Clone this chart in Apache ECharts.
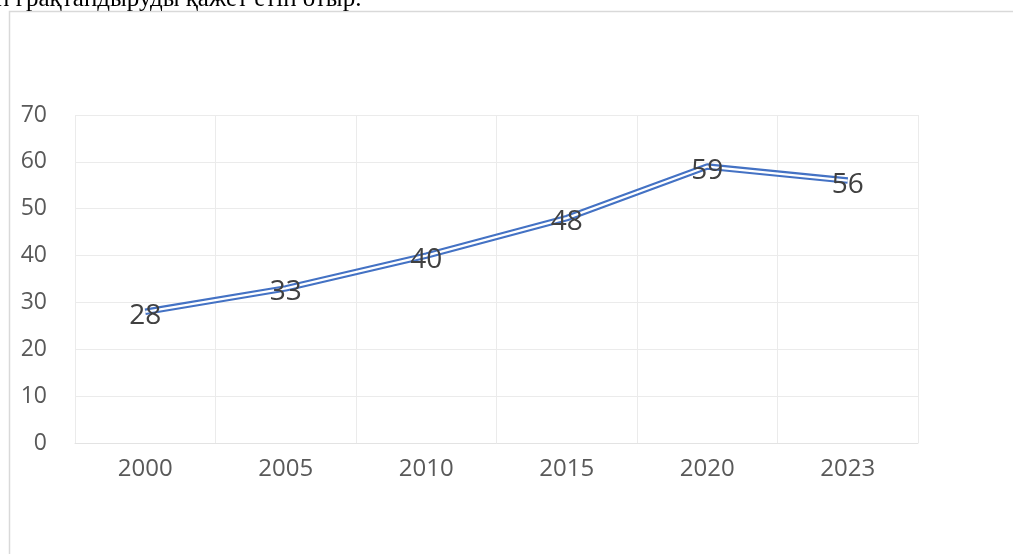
<!DOCTYPE html>
<html><head><meta charset="utf-8">
<script src="https://cdn.jsdelivr.net/npm/echarts@6/dist/echarts.min.js"></script>
<style>html,body{margin:0;padding:0;background:#fff}#c{width:1013px;height:554px}</style>
</head><body><div id="c"></div>
<script>
const categories = ['2000','2005','2010','2015','2020','2023'];
const values = [28, 33, 40, 48, 59, 56];
const yTicks = [0, 10, 20, 30, 40, 50, 60, 70];
const captionText = 'н ғрақтандыруды қажет етіп отыр.';

const chart = echarts.init(document.getElementById('c'));
const font = '"Open Sans", "Noto Sans", sans-serif';
chart.setOption({
  animation: false,
  grid: {left: 75, right: 95, top: 115, bottom: 111},
  xAxis: {
    type: 'category', data: categories, boundaryGap: true,
    axisLine: {show: true, lineStyle: {color: '#e3e3e3', width: 1}},
    axisTick: {show: false},
    splitLine: {show: true, lineStyle: {color: '#ebebeb', width: 1}},
    axisLabel: {color: '#595959', fontSize: 24, fontFamily: font, margin: 14}
  },
  yAxis: {
    type: 'value', min: yTicks[0], max: yTicks[yTicks.length-1], interval: 10,
    axisLine: {show: false}, axisTick: {show: false},
    splitLine: {lineStyle: {color: '#ebebeb', width: 1}},
    axisLabel: {color: '#595959', fontSize: 23, fontFamily: font, margin: 28}
  },
  graphic: [
    {type: 'polyline', silent: true, shape: {points: [[9.5, 554], [9.5, 11.5], [1013, 11.5]]},
     style: {stroke: '#d9d9d9', lineWidth: 1.5, fill: null}},
    {type: 'text', left: -4, top: -13, style: {text: captionText, font: '25px "Liberation Serif", serif', fill: '#000'}}
  ],
  series: [
    {type: 'line', data: values, symbol: 'none', lineStyle: {color: '#4472c4', width: 6.5}, z: 2, silent: true},
    {type: 'line', data: values, symbol: 'circle', symbolSize: 2, showSymbol: true,
     itemStyle: {color: 'rgba(0,0,0,0)', borderWidth: 0},
     lineStyle: {color: '#ffffff', width: 2.3}, z: 3, silent: true,
     label: {show: true, position: 'inside', offset: [0, 4], color: '#404040', fontSize: 28, fontFamily: font}}
  ]
});
</script></body></html>
